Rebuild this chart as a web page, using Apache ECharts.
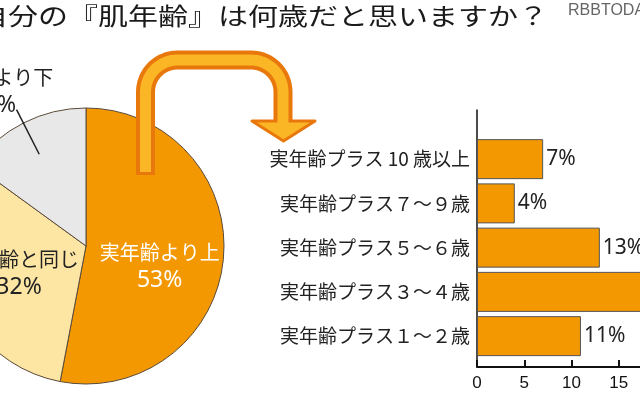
<!DOCTYPE html>
<html><head><meta charset="utf-8">
<script src="https://cdn.jsdelivr.net/npm/echarts@6/dist/echarts.min.js"></script>
<style>html,body{margin:0;padding:0;background:#fff}#c{width:640px;height:400px}</style>
</head><body><div id="c"></div>
<script>
// ---- data ----
const titleText = '自分の『肌年齢』は何歳だと思いますか？';
const watermarkText = 'RBBTODAY';
const pieNames = ['実年齢より上', '実年齢と同じ', '実年齢より下'];
const pieValues = [53, 32, 15];
const barCategories = ['実年齢プラス１～２歳', '実年齢プラス３～４歳', '実年齢プラス５～６歳', '実年齢プラス７～９歳', '実年齢プラス 10 歳以上'];
const barValues = [11, 18, 13, 4, 7];
const xAxisMin = 0, xAxisMax = 20, xAxisStep = 5;

// ---- styles ----
const CJK = '"Noto Sans CJK JP", "Noto Sans", sans-serif';
const pieColors = ['#F39800', '#FDE6A4', '#E8E8E8'];
const pieLabelColors = ['#ffffff', '#222222', '#222222'];
const pieLabelShift = [[2, 14], [0, 1], [-60, -90]];

// decorative arrow (rounded path)
function arrowPoints(x1, x2, yTop, yStart, yEnd, r) {
  const pts = [[x1, yStart], [x1, yTop + r]];
  for (let a = 180; a <= 270; a += 5) {
    const t = a * Math.PI / 180;
    pts.push([x1 + r + r * Math.cos(t), yTop + r + r * Math.sin(t)]);
  }
  for (let a = 270; a <= 360; a += 5) {
    const t = a * Math.PI / 180;
    pts.push([x2 - r + r * Math.cos(t), yTop + r + r * Math.sin(t)]);
  }
  pts.push([x2, yEnd]);
  return pts;
}
const outerPts = arrowPoints(145.5, 283, 60, 175, 121, 32);
const innerPts = arrowPoints(145.5, 283, 60, 172, 126, 32);

const pieData = pieNames.map((n, i) => ({ name: n, value: pieValues[i] }));

const chart = echarts.init(document.getElementById('c'));
chart.setOption({
  animation: false,
  backgroundColor: '#ffffff',
  grid: [
    { left: 477, right: -26, top: 137, bottom: 41.75, outerBoundsMode: 'none', containLabel: false },
    { left: 477, right: -26, top: 110, bottom: 33, outerBoundsMode: 'none', containLabel: false }
  ],
  xAxis: [
    { gridIndex: 0, type: 'value', min: xAxisMin, max: xAxisMax, interval: xAxisStep, show: false },
    { gridIndex: 1, type: 'value', min: xAxisMin, max: xAxisMax, interval: xAxisStep,
      axisLine: { show: true, onZero: false, lineStyle: { color: '#111', width: 2 } },
      axisTick: { show: true, inside: true, length: 7, lineStyle: { color: '#111', width: 2 } },
      axisLabel: { color: '#111', fontSize: 17, margin: 8, fontFamily: '"Liberation Sans", Arial, sans-serif' },
      splitLine: { show: false } }
  ],
  yAxis: [
    { gridIndex: 0, type: 'category', data: barCategories,
      axisLine: { show: false }, axisTick: { show: false },
      axisLabel: { color: '#222', fontSize: 19, margin: 7, fontFamily: CJK } },
    { gridIndex: 1, type: 'value', min: 0, max: 1,
      axisLine: { show: true, onZero: false, lineStyle: { color: '#111', width: 1.5 } },
      axisTick: { show: false }, axisLabel: { show: false }, splitLine: { show: false } }
  ],
  series: [
    {
      type: 'pie',
      center: [86, 246],
      radius: 138,
      startAngle: 90,
      clockwise: true,
      avoidLabelOverlap: false,
      color: pieColors,
      itemStyle: { borderColor: '#5a4a3a', borderWidth: 1 },
      emphasis: { disabled: true },
      data: pieData.map((d, i) => ({
        name: d.name, value: d.value,
        label: { show: true, position: 'inside', color: pieLabelColors[i] },
        labelLine: { show: false }
      })),
      label: {
        formatter: '{n|{b}}\n{p|{c}%}', align: 'center', overflow: 'none',
        rich: {
          n: { fontSize: 20, lineHeight: 28, fontFamily: CJK, align: 'center' },
          p: { fontSize: 23, lineHeight: 28, fontFamily: '"Noto Sans", sans-serif', align: 'center' }
        }
      },
      labelLayout: function (p) {
        const s = pieLabelShift[p.dataIndex];
        return { dx: s[0], dy: s[1] };
      }
    },
    {
      // transparent copy of the pie, only used to draw the leader line of the small slice
      type: 'pie',
      center: [86, 246],
      radius: 103,
      startAngle: 90,
      clockwise: true,
      avoidLabelOverlap: false,
      silent: true,
      z: 5,
      itemStyle: { color: 'rgba(0,0,0,0)', borderWidth: 0 },
      emphasis: { disabled: true },
      data: pieData.map((d, i) => ({
        name: d.name, value: d.value,
        label: { show: i === 2, position: 'outside', formatter: '', color: 'rgba(0,0,0,0)' },
        labelLine: i === 2 ? { show: true, length: 50, length2: 0, smooth: false, lineStyle: { color: '#222', width: 1.5 } } : { show: false }
      }))
    },
    {
      type: 'bar',
      xAxisIndex: 0, yAxisIndex: 0,
      data: barValues,
      barWidth: 40,
      itemStyle: { color: '#F39800', borderColor: '#555', borderWidth: 1 },
      label: { show: true, position: 'right', distance: 3, formatter: '{c}%', fontSize: 21, color: '#222', fontFamily: '"Noto Sans", sans-serif' },
      emphasis: { disabled: true }
    }
  ],
  graphic: [
    { type: 'polyline', shape: { points: outerPts }, style: { stroke: '#E9780C', lineWidth: 19, fill: null, lineJoin: 'round' }, z: 10 },
    { type: 'polygon', shape: { points: [[252, 121], [315, 121], [283.5, 141]] }, style: { fill: '#FBB626', stroke: '#E9780C', lineWidth: 3, lineJoin: 'round' }, z: 11 },
    { type: 'polyline', shape: { points: innerPts }, style: { stroke: '#FBB626', lineWidth: 11, fill: null, lineJoin: 'round' }, z: 12 },
    { type: 'text', x: -22, y: 4, scaleX: 1.25, style: { text: titleText, font: '24px "Noto Sans CJK JP", sans-serif', fill: '#1a1a1a' }, z: 20 },
    { type: 'text', x: 568, y: 3, style: { text: watermarkText, font: '16px "Liberation Sans Narrow", "Liberation Sans", sans-serif', fill: '#666' }, z: 21 }
  ]
});
</script>
</body></html>
